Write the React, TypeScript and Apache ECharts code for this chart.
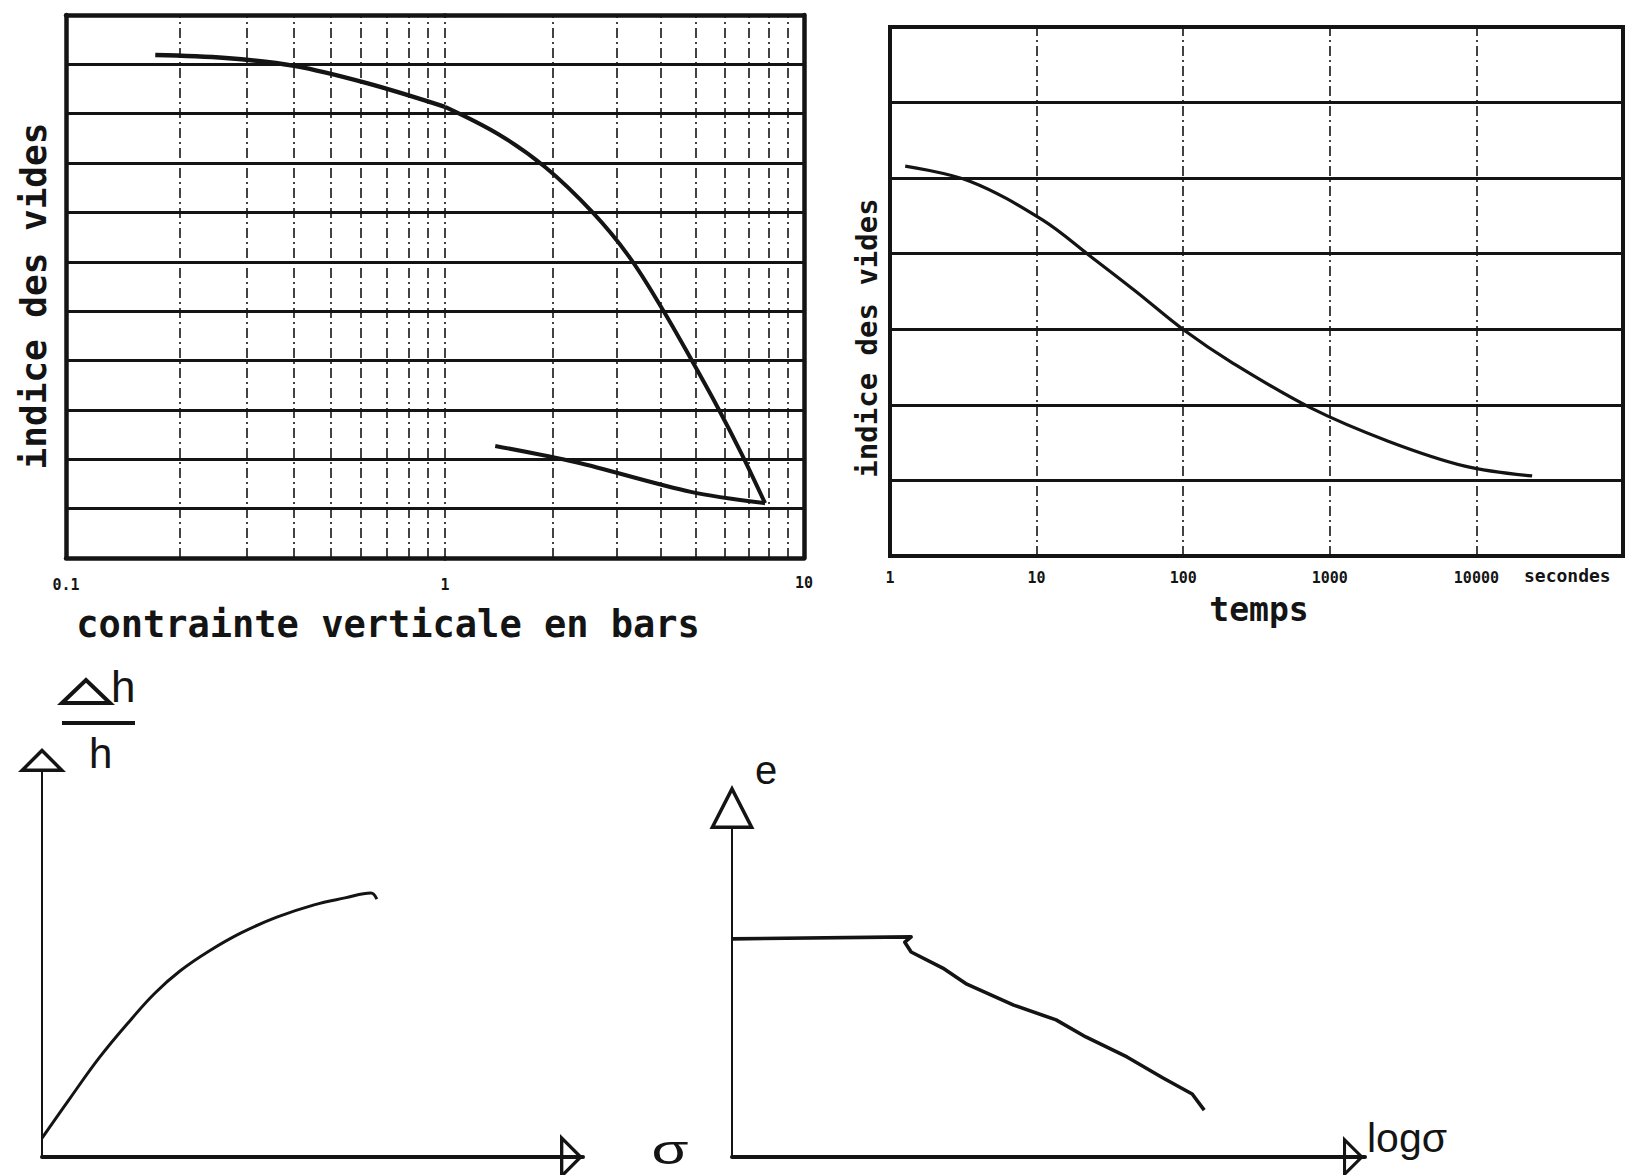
import React, { useEffect, useRef } from 'react';
import * as echarts from 'echarts';

// ---------- Top-left : indice des vides / contrainte verticale (log) ----------
const stressBandCount = 11;
const stressLinesLowerDecade = [0.2, 0.3, 0.4, 0.5, 0.6, 0.7, 0.8, 0.9, 1];
const stressLinesUpperDecade = [2, 3, 4, 5, 6, 7, 8, 9];
const loadingLowX = [0.172, 0.264, 0.4, 0.622, 1.0];
const loadingLowY = [10.19, 10.13, 9.97, 9.62, 9.14];
const loadingHighX = [1.0, 1.405, 1.9, 2.57, 3.26, 4.05, 4.88, 5.76, 6.68, 7.79];
const loadingHighY = [9.14, 8.59, 7.92, 7.01, 6.1, 5.02, 3.99, 3.04, 2.13, 1.11];
const unloadingX = [1.38, 2.32, 4.84, 7.79];
const unloadingY = [2.27, 1.94, 1.34, 1.11];

// ---------- Top-right : indice des vides / temps (log) ----------
const timeBandCount = 7;
const timeLines = [10, 100, 1000, 10000];
const timeX = [1.27, 3.5, 10.9, 23.5, 46.9, 101, 219, 741, 2500, 8350, 24000];
const timeY = [5.16, 4.96, 4.45, 3.96, 3.51, 2.99, 2.55, 1.96, 1.52, 1.19, 1.06];

// ---------- Bottom-left : Δh/h vs σ ----------
const swellX = [0, 0.52, 1.07, 1.65, 2.09, 2.55, 3.09, 3.68, 4.34, 5.03, 5.6, 6.08, 6.19];
const swellY = [0.49, 1.53, 2.6, 3.58, 4.26, 4.83, 5.35, 5.82, 6.23, 6.55, 6.73, 6.86, 6.7];

// ---------- Bottom-right : e vs log σ ----------
const eLogX = [0, 2.83, 2.73, 2.83, 3.33, 3.71, 4.45, 5.12, 5.59, 6.24, 6.81, 7.27, 7.46];
const eLogY = [6.65, 6.71, 6.55, 6.25, 5.76, 5.27, 4.63, 4.18, 3.66, 3.05, 2.41, 1.92, 1.43];

const K = '#141414';
const MONO = '"DejaVu Sans Mono", monospace';
const SANS = '"Liberation Sans", Arial, sans-serif';
const TRI_WIDE = 'path://M0,24L24,0L48,24ZM8.45,20.5L39.55,20.5L24,4.95Z';
const TRI_TALL = 'path://M0,44L22.5,0L45,44ZM5.71,40.5L39.29,40.5L22.5,7.68Z';

const zip = (xs: number[], ys: number[]) => xs.map((x, i) => [x, ys[i]]);

const dashed = { color: K, width: 1.6, type: [10, 4, 2, 4] as any };
const noLabel = { show: false };
const noTick = { show: false };
const noSplit = { show: false };

function frameAxis(grid: number, min: number, max: number, position: string, labels?: any) {
  return {
    gridIndex: grid,
    type: 'log',
    logBase: 10,
    min,
    max,
    position,
    axisLine: { show: true, onZero: false, lineStyle: { color: K, width: 4.5 } },
    axisTick: noTick,
    minorTick: noTick,
    splitLine: noSplit,
    axisLabel: labels || noLabel,
  };
}

const tickLabel = (formatter: (v: number) => string, margin: number) => ({
  show: true,
  formatter,
  margin,
  fontSize: 15,
  fontFamily: MONO,
  fontWeight: 'bold',
  color: K,
});

function buildOption(): any {
  return {
    animation: false,
    backgroundColor: '#ffffff',
    grid: [
      { left: 66, top: 15, width: 379, height: 543, outerBoundsMode: 'none' },
      { left: 445, top: 15, width: 359, height: 543, outerBoundsMode: 'none' },
      { left: 890, top: 27, width: 733, height: 529, show: true, borderColor: K, borderWidth: 4, outerBoundsMode: 'none' },
      { left: 42, top: 772, width: 541, height: 385, outerBoundsMode: 'none' },
      { left: 732, top: 829, width: 633, height: 328, outerBoundsMode: 'none' },
    ],
    xAxis: [
      frameAxis(0, 0.1, 1, 'bottom', tickLabel((v) => (v < 0.5 ? '0.1' : '1'), 19)),
      frameAxis(0, 0.1, 1, 'top'),
      frameAxis(1, 1, 10, 'bottom', tickLabel((v) => (v > 5 ? '10' : ''), 17)),
      frameAxis(1, 1, 10, 'top'),
      {
        gridIndex: 2,
        type: 'log',
        logBase: 10,
        min: 1,
        max: 100000,
        axisLine: { show: false },
        axisTick: noTick,
        minorTick: noTick,
        splitLine: noSplit,
        axisLabel: tickLabel((v) => (v > 50000 ? '' : String(Math.round(v))), 14),
      },
      {
        gridIndex: 3,
        type: 'value',
        min: 0,
        max: 10,
        axisLine: {
          show: true,
          onZero: false,
          symbol: ['none', TRI_WIDE],
          symbolSize: [48, 23],
          symbolOffset: [0, -11.5],
          lineStyle: { color: K, width: 4 },
        },
        axisTick: noTick,
        axisLabel: noLabel,
        splitLine: noSplit,
      },
      {
        gridIndex: 4,
        type: 'value',
        min: 0,
        max: 10,
        axisLine: {
          show: true,
          onZero: false,
          symbol: ['none', TRI_WIDE],
          symbolSize: [42, 23],
          symbolOffset: [0, -11.5],
          lineStyle: { color: K, width: 4 },
        },
        axisTick: noTick,
        axisLabel: noLabel,
        splitLine: noSplit,
      },
    ],
    yAxis: [
      {
        gridIndex: 0,
        type: 'value',
        min: 0,
        max: stressBandCount,
        interval: 1,
        position: 'left',
        axisLine: { show: true, onZero: false, lineStyle: { color: K, width: 4.5 } },
        axisTick: noTick,
        axisLabel: noLabel,
        splitLine: { show: true, lineStyle: { color: K, width: 3 } },
      },
      {
        gridIndex: 1,
        type: 'value',
        min: 0,
        max: stressBandCount,
        interval: 1,
        position: 'right',
        axisLine: { show: true, onZero: false, lineStyle: { color: K, width: 4.5 } },
        axisTick: noTick,
        axisLabel: noLabel,
        splitLine: { show: true, lineStyle: { color: K, width: 3 } },
      },
      {
        gridIndex: 2,
        type: 'value',
        min: 0,
        max: timeBandCount,
        interval: 1,
        axisLine: { show: false },
        axisTick: noTick,
        axisLabel: noLabel,
        splitLine: { show: true, lineStyle: { color: K, width: 3 } },
      },
      {
        gridIndex: 3,
        type: 'value',
        min: 0,
        max: 10,
        axisLine: {
          show: true,
          onZero: false,
          symbol: ['none', TRI_WIDE],
          symbolSize: [48, 24],
          symbolOffset: [0, 12],
          lineStyle: { color: K, width: 2 },
        },
        axisTick: noTick,
        axisLabel: noLabel,
        splitLine: noSplit,
      },
      {
        gridIndex: 4,
        type: 'value',
        min: 0,
        max: 10,
        axisLine: {
          show: true,
          onZero: false,
          symbol: ['none', TRI_TALL],
          symbolSize: [45, 44],
          symbolOffset: [0, 22],
          lineStyle: { color: K, width: 2 },
        },
        axisTick: noTick,
        axisLabel: noLabel,
        splitLine: noSplit,
      },
    ],
    series: [
      {
        type: 'line',
        xAxisIndex: 0,
        yAxisIndex: 0,
        data: zip(loadingLowX, loadingLowY),
        smooth: 0.35,
        showSymbol: false,
        lineStyle: { color: K, width: 4.5 },
        markLine: {
          silent: true,
          symbol: ['none', 'none'],
          label: { show: false },
          lineStyle: dashed,
          data: stressLinesLowerDecade.map((v) => ({ xAxis: v })),
        },
        z: 3,
      },
      {
        type: 'line',
        xAxisIndex: 2,
        yAxisIndex: 1,
        data: zip(loadingHighX, loadingHighY),
        smooth: 0.35,
        showSymbol: false,
        lineStyle: { color: K, width: 4 },
        markLine: {
          silent: true,
          symbol: ['none', 'none'],
          label: { show: false },
          lineStyle: dashed,
          data: stressLinesUpperDecade.map((v) => ({ xAxis: v })),
        },
        z: 3,
      },
      {
        type: 'line',
        xAxisIndex: 2,
        yAxisIndex: 1,
        data: zip(unloadingX, unloadingY),
        smooth: 0.3,
        showSymbol: false,
        lineStyle: { color: K, width: 4 },
        z: 3,
      },
      {
        type: 'line',
        xAxisIndex: 4,
        yAxisIndex: 2,
        data: zip(timeX, timeY),
        smooth: 0.35,
        showSymbol: false,
        lineStyle: { color: K, width: 3.2 },
        markLine: {
          silent: true,
          symbol: ['none', 'none'],
          label: { show: false },
          lineStyle: dashed,
          data: timeLines.map((v) => ({ xAxis: v })),
        },
        z: 3,
      },
      {
        type: 'line',
        xAxisIndex: 5,
        yAxisIndex: 3,
        data: zip(swellX, swellY),
        smooth: 0.4,
        showSymbol: false,
        lineStyle: { color: K, width: 3 },
      },
      {
        type: 'line',
        xAxisIndex: 6,
        yAxisIndex: 4,
        data: zip(eLogX, eLogY),
        smooth: false,
        showSymbol: false,
        lineStyle: { color: K, width: 3.6, join: 'round' },
      },
    ],
    graphic: [
      {
        type: 'text',
        x: 388,
        y: 624,
        style: {
          text: 'contrainte verticale en bars',
          fontSize: 37,
          fontFamily: MONO,
          fontWeight: 'bold',
          fill: K,
          align: 'center',
          verticalAlign: 'middle',
        },
      },
      {
        type: 'text',
        x: 33,
        y: 296,
        rotation: Math.PI / 2,
        style: {
          text: 'indice des vides',
          fontSize: 36,
          fontFamily: MONO,
          fontWeight: 'bold',
          fill: K,
          align: 'center',
          verticalAlign: 'middle',
        },
      },
      {
        type: 'text',
        x: 867,
        y: 338,
        rotation: Math.PI / 2,
        style: {
          text: 'indice des vides',
          fontSize: 29,
          fontFamily: MONO,
          fontWeight: 'bold',
          fill: K,
          align: 'center',
          verticalAlign: 'middle',
        },
      },
      {
        type: 'text',
        x: 1259,
        y: 609,
        style: {
          text: 'temps',
          fontSize: 33,
          fontFamily: MONO,
          fontWeight: 'bold',
          fill: K,
          align: 'center',
          verticalAlign: 'middle',
        },
      },
      {
        type: 'text',
        x: 1524,
        y: 575,
        style: {
          text: 'secondes',
          fontSize: 18,
          fontFamily: MONO,
          fontWeight: 'bold',
          fill: K,
          align: 'left',
          verticalAlign: 'middle',
        },
      },
      // Bottom-left labels
      {
        type: 'polygon',
        shape: { points: [[62, 703], [86, 680], [110, 703]] },
        style: { fill: 'none', stroke: K, lineWidth: 4, lineJoin: 'miter' },
      },
      {
        type: 'text',
        x: 111,
        y: 686,
        style: { text: 'h', fontSize: 44, fontFamily: SANS, fill: K, align: 'left', verticalAlign: 'middle' },
      },
      {
        type: 'line',
        shape: { x1: 62, y1: 723, x2: 135, y2: 723 },
        style: { stroke: K, lineWidth: 4 },
      },
      {
        type: 'text',
        x: 89,
        y: 753,
        style: { text: 'h', fontSize: 42, fontFamily: SANS, fill: K, align: 'left', verticalAlign: 'middle' },
      },
      {
        type: 'text',
        x: 670,
        y: 1150,
        scaleX: 1.5,
        style: { text: 'σ', fontSize: 40, fontFamily: SANS, fill: K, align: 'center', verticalAlign: 'middle' },
      },
      // Bottom-right labels
      {
        type: 'text',
        x: 755,
        y: 770,
        style: { text: 'e', fontSize: 40, fontFamily: SANS, fill: K, align: 'left', verticalAlign: 'middle' },
      },
      {
        type: 'text',
        x: 1367,
        y: 1138,
        style: { text: 'logσ', fontSize: 41, fontFamily: SANS, fill: K, align: 'left', verticalAlign: 'middle' },
      },
    ],
  };
}

export default function App() {
  const ref = useRef<HTMLDivElement>(null);
  useEffect(() => {
    document.body.style.margin = '0';
    const chart = echarts.init(ref.current as HTMLDivElement, null, { renderer: 'svg' });
    chart.setOption(buildOption());
    return () => {
      chart.dispose();
    };
  }, []);
  return <div ref={ref} style={{ width: 1630, height: 1175, background: '#fff' }} />;
}
